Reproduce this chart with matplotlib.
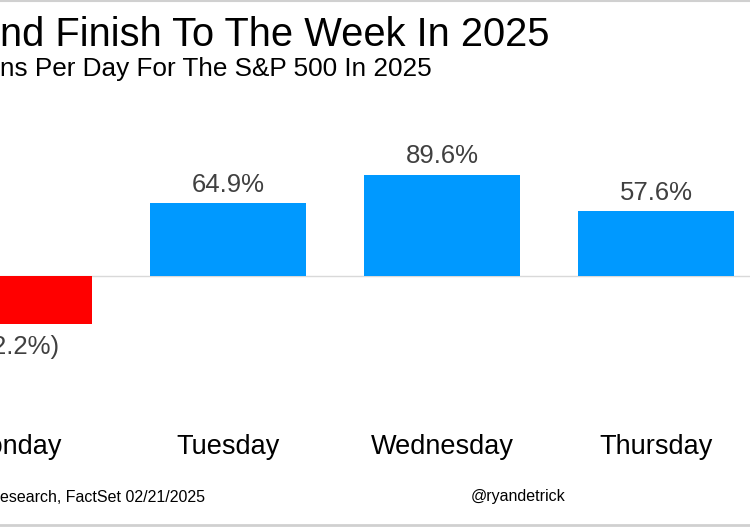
import matplotlib
matplotlib.use('Agg')
import matplotlib.pyplot as plt
from matplotlib.transforms import blended_transform_factory
from matplotlib.lines import Line2D

plt.rcParams['font.family'] = ['Liberation Sans', 'DejaVu Sans']

# data (the picture is cropped: Monday only partly visible, Friday off-frame)
days = ['Monday', 'Tuesday', 'Wednesday', 'Thursday']
pct = [-42.2, 64.9, 89.6, 57.6]
labels = ['(42.2%)', '64.9%', '89.6%', '57.6%']

blue = '#0099ff'
red = '#ff0000'

fig = plt.figure(figsize=(7.5, 5.27), dpi=100)
ax = fig.add_axes([0, 0.203, 1, 0.5693])

x = list(range(len(days)))
colors = [red if v < 0 else blue for v in pct]
ax.bar(x, pct, width=0.73, color=colors, zorder=2)
ax.axhline(0, color='#d9d9d9', lw=1, zorder=1)

ax.set_xlim(-0.0654, 3.439)
ax.set_ylim(-126.5, 137.8)
ax.axis('off')

for xi, v, lab in zip(x, pct, labels):
    if v >= 0:
        ax.annotate(lab, (xi, v), xytext=(0, 4.5), textcoords='offset points',
                    ha='center', va='bottom', fontsize=18.5, color='#404040')
    else:
        ax.annotate(lab, (xi, v), xytext=(0, -8), textcoords='offset points',
                    ha='center', va='top', fontsize=18.5, color='#404040')

trans = blended_transform_factory(ax.transData, fig.transFigure)
for xi, d in zip(x, days):
    ax.text(xi, 0.152, d, transform=trans, ha='center', va='center',
            fontsize=19.5, color='black', clip_on=False)

# titles (left part cropped off in the reference)
fig.text(0.0, 1 - 46/527, 'nd Finish To The Week In 2025', fontsize=28.7,
         ha='left', va='baseline', color='black')
fig.text(0.0, 1 - 76/527, 'ns Per Day For The S&P 500 In 2025', fontsize=18.8,
         ha='left', va='baseline', color='black')

# footer
fig.text(0.0, 1 - 497/527, 'esearch, FactSet 02/21/2025', fontsize=11.5,
         ha='left', va='center', color='black')
fig.text(471/750, 1 - 497/527, '@ryandetrick', fontsize=11.5,
         ha='left', va='center', color='black')

# thin frame lines top and bottom
fig.add_artist(Line2D([0, 1], [0.998, 0.998], color='#d0d0d0', lw=1.5))
fig.add_artist(Line2D([0, 1], [0.004, 0.004], color='#d0d0d0', lw=2))

fig.savefig('out.png', dpi=100)
